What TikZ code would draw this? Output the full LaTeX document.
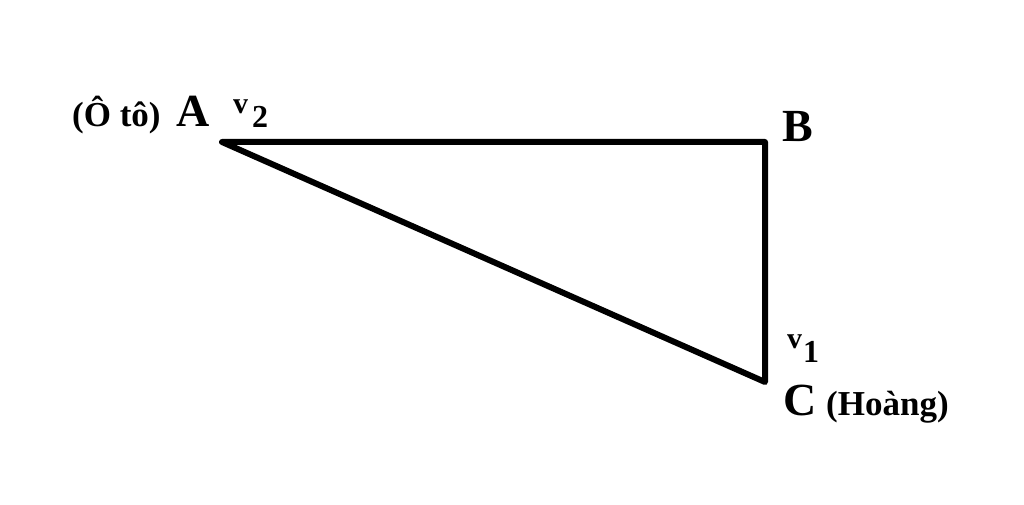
\documentclass[tikz,border=0pt]{standalone}
\usepackage{fontspec}
\setmainfont{Liberation Serif}
\begin{document}
\begin{tikzpicture}[x=1pt,y=-1pt,
  lbl/.style={inner sep=0pt,anchor=base west,font=\bfseries},
  big/.style={lbl,font=\bfseries\fontsize{46}{50}\selectfont},
  mid/.style={lbl,font=\bfseries\fontsize{35}{40}\selectfont},
  vlet/.style={lbl,font=\bfseries\fontsize{30}{34}\selectfont},
  vnum/.style={lbl,font=\bfseries\fontsize{32}{36}\selectfont},
  edge/.style={line width=6pt,line join=round,line cap=butt}]
\useasboundingbox (0,0) rectangle (1024,505);
\coordinate (A) at (222,142);
\coordinate (B) at (765,142);
\coordinate (C) at (765,382);
\draw[edge] (A) -- (B) -- (C) -- cycle;
\node[mid] (oto) at (72,127) {(Ô tô)};
\node[big] (la) at (176,127) {A};
\node[vlet] (v2v) at (233,114) {v};
\node[vnum] (v2n) at (252,128) {2};
\node[big] (lb) at (782,142) {B};
\node[vlet] (v1v) at (787,348) {v};
\node[vnum] (v1n) at (803,362) {1};
\node[big] (lc) at (783,415) {C};
\node[mid] (hoang) at (826,415) {(Hoàng)};
\end{tikzpicture}
\end{document}
